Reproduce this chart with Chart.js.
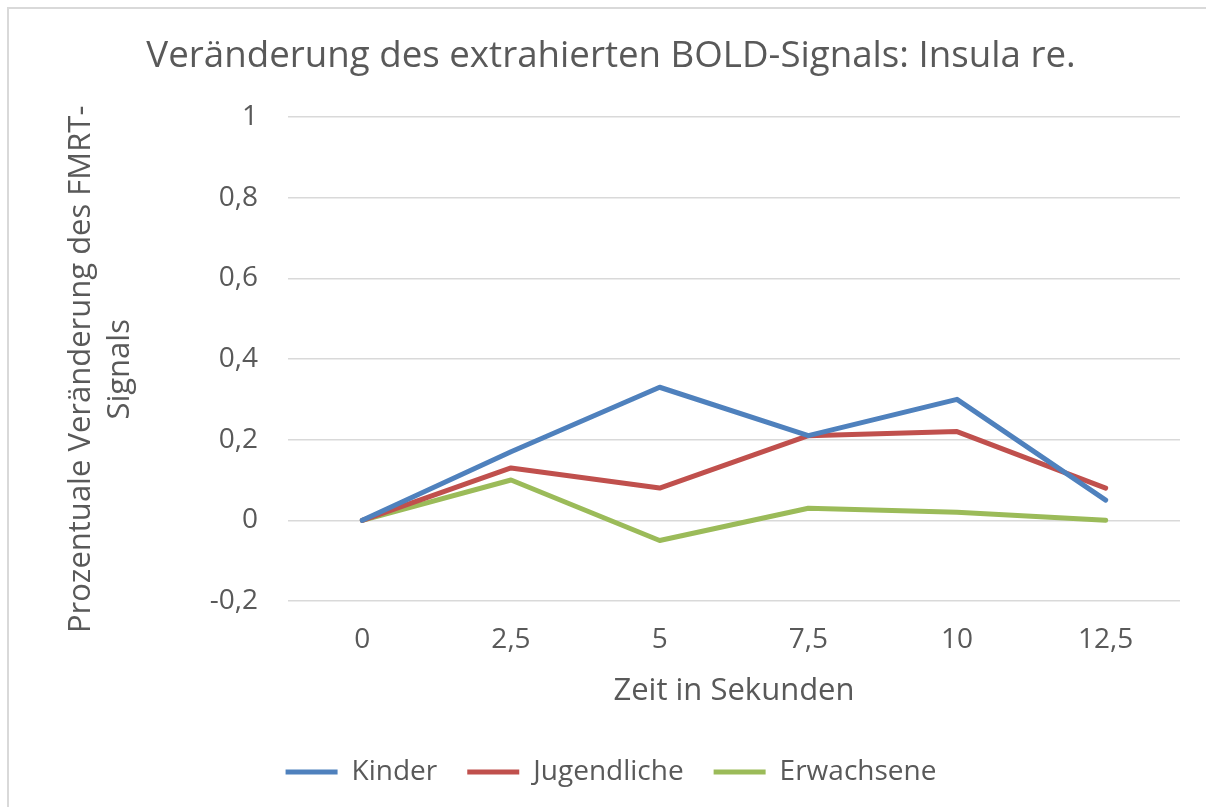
<!DOCTYPE html>
<html lang="de">
<head>
<meta charset="UTF-8">
<title>BOLD-Signal Insula re.</title>
<script src="https://cdn.jsdelivr.net/npm/chart.js"></script>
<style>
  html, body { margin: 0; padding: 0; background: #fff; overflow: hidden; }
  #frame { position: absolute; left: 7px; top: 7px; width: 1220px; height: 820px; border: 2px solid #d9d9d9; }
  #chart { position: absolute; left: 0; top: 0; }
</style>
</head>
<body>
<div id="frame"></div>
<canvas id="chart" width="1206" height="807"></canvas>
<script>
// Zeitpunkte (Sekunden) und Signalwerte
const zeit = ['0', '2,5', '5', '7,5', '10', '12,5'];
const kinder = [0, 0.17, 0.33, 0.21, 0.30, 0.05];
const jugendliche = [0, 0.13, 0.08, 0.21, 0.22, 0.08];
const erwachsene = [0, 0.10, -0.05, 0.03, 0.02, 0];

const textColor = '#595959';
const fontFamily = '"Open Sans", sans-serif';

function fmt(v) {
    return (Math.round(v * 10) / 10).toString().replace('.', ',');
}

function serie(label, data, color) {
    return {
        label: label,
        data: data,
        borderColor: color,
        backgroundColor: color,
        borderWidth: 5,
        borderCapStyle: 'round',
        borderJoinStyle: 'round',
        pointRadius: 0,
        pointHoverRadius: 0,
        tension: 0,
        fill: false
    };
}

const ctx = document.getElementById('chart').getContext('2d');
const chart = new Chart(ctx, {
    type: 'line',
    data: {
        labels: zeit,
        datasets: [
            serie('Kinder', kinder, '#4f81bd'),
            serie('Jugendliche', jugendliche, '#c0504d'),
            serie('Erwachsene', erwachsene, '#9bbb59')
        ]
    },
    options: {
        responsive: false,
        animation: false,
        events: [],
        layout: { padding: { left: 42, right: 26, top: 0, bottom: 11 } },
        plugins: {
            title: {
                display: true,
                text: 'Veränderung des extrahierten BOLD-Signals: Insula re.',
                color: textColor,
                font: { family: fontFamily, size: 36.7, weight: 'normal' },
                padding: { top: 35, bottom: 38 }
            },
            legend: {
                position: 'bottom',
                labels: {
                    color: textColor,
                    font: { family: fontFamily, size: 28 },
                    usePointStyle: true,
                    pointStyle: 'line',
                    pointStyleWidth: 52,
                    padding: 30
                }
            },
            tooltip: { enabled: false }
        },
        scales: {
            x: {
                offset: true,
                grid: { display: false, drawTicks: false },
                border: { display: false },
                ticks: {
                    color: textColor,
                    font: { family: fontFamily, size: 28 },
                    padding: 22,
                    maxRotation: 0
                },
                title: {
                    display: true,
                    text: 'Zeit in Sekunden',
                    color: textColor,
                    font: { family: fontFamily, size: 31 },
                    padding: { bottom: 18 }
                },
                afterFit: function (scale) { scale.height = 127; }
            },
            y: {
                min: -0.2,
                max: 1,
                grid: { color: '#d9d9d9', lineWidth: 1.5, drawTicks: false },
                border: { display: false },
                ticks: {
                    stepSize: 0.2,
                    color: textColor,
                    font: { family: fontFamily, size: 28 },
                    padding: 30,
                    callback: function (v) { return fmt(v); }
                },
                title: {
                    display: true,
                    text: ['Prozentuale Veränderung des FMRT-\u2002\u2009', 'Signals\u2002\u2009'],
                    color: textColor,
                    font: { family: fontFamily, size: 31, lineHeight: 1.25 },
                    padding: { top: 20 }
                },
                afterFit: function (scale) { scale.width = 246; }
            }
        }
    }
});
</script>
</body>
</html>
